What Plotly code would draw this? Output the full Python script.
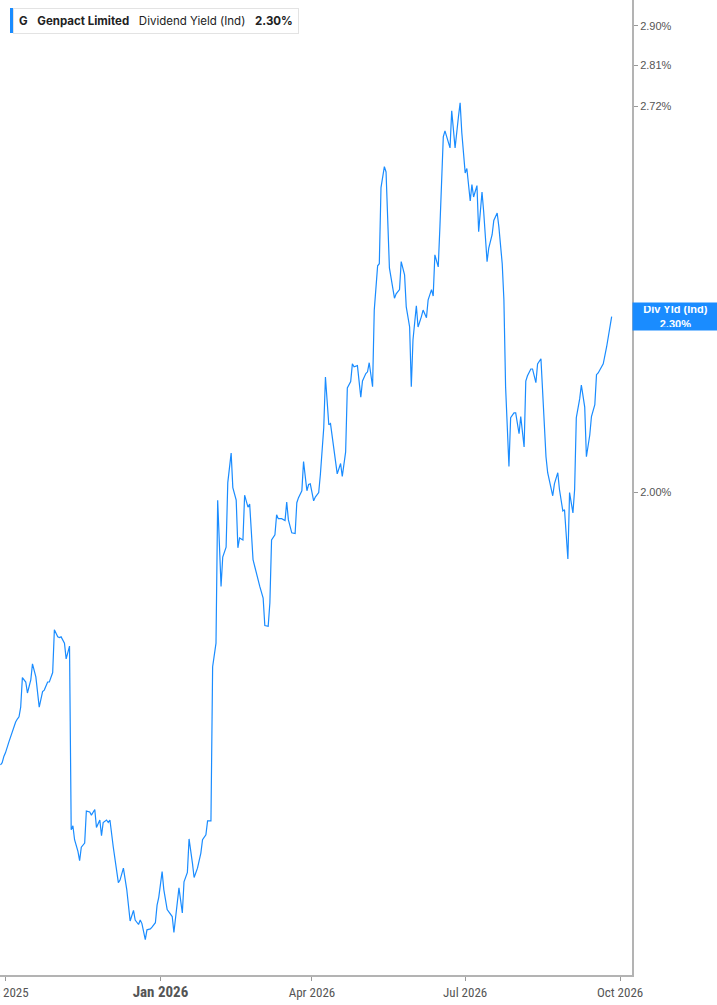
import plotly.graph_objects as go

# Genpact Limited - dividend yield (indicated), %
dates = [
    "2025-09-28", "2025-09-29", "2025-09-30", "2025-10-01", "2025-10-03", "2025-10-04", "2025-10-05",
    "2025-10-07", "2025-10-08", "2025-10-09", "2025-10-10", "2025-10-11", "2025-10-13", "2025-10-14",
    "2025-10-16", "2025-10-17", "2025-10-19", "2025-10-20", "2025-10-21", "2025-10-23", "2025-10-24",
    "2025-10-26", "2025-10-27", "2025-10-29", "2025-10-30", "2025-11-01", "2025-11-02", "2025-11-03",
    "2025-11-05", "2025-11-06", "2025-11-08", "2025-11-09", "2025-11-10", "2025-11-11", "2025-11-13",
    "2025-11-14", "2025-11-15", "2025-11-17", "2025-11-18", "2025-11-20", "2025-11-21", "2025-11-23",
    "2025-11-24", "2025-11-26", "2025-11-27", "2025-11-28", "2025-11-30", "2025-12-01", "2025-12-02",
    "2025-12-04", "2025-12-06", "2025-12-07", "2025-12-08", "2025-12-10", "2025-12-12", "2025-12-13",
    "2025-12-14", "2025-12-16", "2025-12-17", "2025-12-19", "2025-12-20", "2025-12-21", "2025-12-23",
    "2025-12-24", "2025-12-26", "2025-12-27", "2025-12-29", "2025-12-30", "2025-12-31", "2026-01-02",
    "2026-01-03", "2026-01-05", "2026-01-06", "2026-01-08", "2026-01-09", "2026-01-11", "2026-01-12",
    "2026-01-14", "2026-01-15", "2026-01-17", "2026-01-18", "2026-01-20", "2026-01-21", "2026-01-23",
    "2026-01-24", "2026-01-25", "2026-01-26", "2026-01-28", "2026-01-29", "2026-01-31", "2026-02-01",
    "2026-02-03", "2026-02-04", "2026-02-06", "2026-02-07", "2026-02-09", "2026-02-10", "2026-02-12",
    "2026-02-13", "2026-02-15", "2026-02-16", "2026-02-17", "2026-02-19", "2026-02-20", "2026-02-22",
    "2026-02-23", "2026-02-25", "2026-02-26", "2026-02-28", "2026-03-01", "2026-03-03", "2026-03-04",
    "2026-03-06", "2026-03-07", "2026-03-08", "2026-03-10", "2026-03-11", "2026-03-12", "2026-03-14",
    "2026-03-16", "2026-03-17", "2026-03-18", "2026-03-20", "2026-03-22", "2026-03-23", "2026-03-24",
    "2026-03-26", "2026-03-27", "2026-03-29", "2026-03-30", "2026-03-31", "2026-04-02", "2026-04-03",
    "2026-04-05", "2026-04-06", "2026-04-08", "2026-04-09", "2026-04-11", "2026-04-12", "2026-04-14",
    "2026-04-15", "2026-04-16", "2026-04-18", "2026-04-19", "2026-04-21", "2026-04-22", "2026-04-24",
    "2026-04-25", "2026-04-26", "2026-04-28", "2026-04-30", "2026-05-01", "2026-05-03", "2026-05-04",
    "2026-05-05", "2026-05-07", "2026-05-08", "2026-05-10", "2026-05-11", "2026-05-12", "2026-05-14",
    "2026-05-15", "2026-05-17", "2026-05-18", "2026-05-20", "2026-05-21", "2026-05-23", "2026-05-24",
    "2026-05-26", "2026-05-27", "2026-05-29", "2026-05-30", "2026-05-31", "2026-06-02", "2026-06-03",
    "2026-06-05", "2026-06-06", "2026-06-08", "2026-06-09", "2026-06-11", "2026-06-12", "2026-06-13",
    "2026-06-15", "2026-06-16", "2026-06-18", "2026-06-19", "2026-06-20", "2026-06-22", "2026-06-23",
    "2026-06-25", "2026-06-27", "2026-06-28", "2026-06-29", "2026-07-01", "2026-07-02", "2026-07-04",
    "2026-07-05", "2026-07-06", "2026-07-08", "2026-07-09", "2026-07-11", "2026-07-12", "2026-07-14",
    "2026-07-15", "2026-07-17", "2026-07-18", "2026-07-20", "2026-07-21", "2026-07-23", "2026-07-24",
    "2026-07-25", "2026-07-27", "2026-07-28", "2026-07-30", "2026-07-31", "2026-08-02", "2026-08-03",
    "2026-08-05", "2026-08-06", "2026-08-07", "2026-08-09", "2026-08-10", "2026-08-12", "2026-08-13",
    "2026-08-15", "2026-08-16", "2026-08-18", "2026-08-19", "2026-08-20", "2026-08-22", "2026-08-23",
    "2026-08-25", "2026-08-26", "2026-08-28", "2026-08-29", "2026-08-31", "2026-09-01", "2026-09-03",
    "2026-09-04", "2026-09-05", "2026-09-07", "2026-09-08", "2026-09-10", "2026-09-11", "2026-09-13",
    "2026-09-14", "2026-09-16", "2026-09-17", "2026-09-18", "2026-09-20", "2026-09-21", "2026-09-23",
    "2026-09-24", "2026-09-26",
]

div_yield = [
    1.609, 1.612, 1.620, 1.625, 1.639, 1.646, 1.651, 1.665, 1.669, 1.672,
    1.685, 1.725, 1.719, 1.704, 1.722, 1.744, 1.726, 1.708, 1.685, 1.706,
    1.708, 1.719, 1.719, 1.732, 1.792, 1.782, 1.781, 1.782, 1.773, 1.751,
    1.769, 1.528, 1.533, 1.516, 1.502, 1.491, 1.507, 1.512, 1.551, 1.550,
    1.546, 1.553, 1.531, 1.540, 1.521, 1.537, 1.540, 1.537, 1.540, 1.507,
    1.477, 1.465, 1.468, 1.482, 1.457, 1.434, 1.421, 1.433, 1.422, 1.417,
    1.422, 1.418, 1.400, 1.411, 1.412, 1.414, 1.419, 1.439, 1.448, 1.478,
    1.457, 1.434, 1.431, 1.426, 1.408, 1.442, 1.459, 1.430, 1.466, 1.477,
    1.517, 1.488, 1.471, 1.482, 1.491, 1.500, 1.516, 1.522, 1.539, 1.539,
    1.740, 1.773, 1.987, 1.855, 1.899, 1.914, 2.015, 2.063, 2.007, 1.987,
    1.913, 1.928, 1.925, 1.995, 1.976, 1.981, 1.895, 1.884, 1.862, 1.855,
    1.838, 1.798, 1.797, 1.831, 1.925, 1.933, 1.964, 1.958, 1.958, 1.955,
    1.984, 1.956, 1.936, 1.935, 1.983, 1.991, 2.002, 2.049, 2.002, 2.012,
    2.013, 1.986, 1.992, 1.999, 2.028, 2.105, 2.192, 2.110, 2.112, 2.066,
    2.044, 2.029, 2.046, 2.025, 2.065, 2.173, 2.184, 2.215, 2.210, 2.212,
    2.157, 2.185, 2.198, 2.201, 2.217, 2.175, 2.312, 2.395, 2.399, 2.549,
    2.592, 2.581, 2.391, 2.369, 2.334, 2.342, 2.350, 2.403, 2.378, 2.318,
    2.281, 2.175, 2.258, 2.320, 2.281, 2.300, 2.312, 2.298, 2.331, 2.350,
    2.338, 2.416, 2.393, 2.471, 2.654, 2.667, 2.654, 2.631, 2.710, 2.631,
    2.697, 2.727, 2.663, 2.579, 2.588, 2.522, 2.555, 2.530, 2.553, 2.461,
    2.540, 2.500, 2.403, 2.429, 2.455, 2.483, 2.498, 2.471, 2.399, 2.331,
    2.175, 2.041, 2.122, 2.130, 2.130, 2.095, 2.124, 2.073, 2.185, 2.194,
    2.206, 2.206, 2.182, 2.215, 2.224, 2.164, 2.057, 2.031, 2.020, 1.994,
    2.013, 2.031, 2.004, 1.970, 1.972, 1.896, 1.999, 1.967, 2.004, 2.122,
    2.154, 2.178, 2.140, 2.057, 2.093, 2.124, 2.144, 2.196, 2.199, 2.210,
    2.215, 2.245, 2.263, 2.300,
]

y_ticks = [2.00, 2.72, 2.81, 2.90]
y_tick_text = ["2.00%", "2.72%", "2.81%", "2.90%"]
x_ticks = ["2025-10-01", "2026-01-01", "2026-04-01", "2026-07-01", "2026-10-01"]
x_tick_text = ["Oct 2025", "<b><span style='font-size:15px'>Jan 2026</span></b>",
               "Apr 2026", "Jul 2026", "Oct 2026"]

last_val = div_yield[-1]
blue = "#1a8cff"

fig = go.Figure()
fig.add_trace(go.Scatter(
    x=dates, y=div_yield, mode="lines",
    line=dict(color=blue, width=1.2),
    hoverinfo="skip", showlegend=False,
))

fig.update_layout(
    width=717, height=1005,
    margin=dict(l=0, r=85, t=0, b=30),
    paper_bgcolor="white", plot_bgcolor="white",
    font=dict(family="Liberation Sans, Arial, sans-serif", color="#555"),
    xaxis=dict(
        type="date",
        range=["2025-09-27 17:00", "2026-10-08 02:00"],
        tickvals=x_ticks, ticktext=x_tick_text,
        ticklabeloverflow="allow", automargin=False,
        showgrid=False, zeroline=False,
        showline=True, linecolor="#b3b3b3", linewidth=2,
        ticks="outside", ticklen=4, tickcolor="#999",
        tickfont=dict(family="Liberation Sans Narrow, Roboto Condensed, Arial Narrow, sans-serif",
                      size=13, color="#555"),
    ),
    yaxis=dict(
        type="log", side="right",
        range=[0.13389, 0.47129],
        tickvals=y_ticks, ticktext=y_tick_text,
        automargin=False,
        showgrid=False, zeroline=False,
        showline=True, linecolor="#b3b3b3", linewidth=2,
        ticks="outside", ticklen=4, tickcolor="#999",
        tickfont=dict(family="Liberation Sans, Arial, sans-serif", size=11, color="#555"),
    ),
)

# legend-style header box (blue bar on its left edge, drawn as a shape)
fig.add_annotation(
    xref="paper", yref="paper", x=0, y=1, xanchor="left", yanchor="top",
    xshift=13, yshift=-8,
    text="<b>G</b>&nbsp;&nbsp;&nbsp;<b>Genpact Limited</b>&nbsp;&nbsp;&nbsp;Dividend Yield (Ind)"
         "&nbsp;&nbsp;&nbsp;<b>%.2f%%</b>" % last_val,
    showarrow=False, align="left",
    font=dict(family="Inter, Noto Sans, sans-serif", size=11.5, color="#222"),
    bgcolor="white", bordercolor="#e3e3e3", borderwidth=1, borderpad=5,
)
fig.add_shape(
    type="rect", xref="paper", yref="paper",
    xsizemode="pixel", ysizemode="pixel", xanchor=0, yanchor=1,
    x0=10, x1=13, y0=-8, y1=-33,
    fillcolor=blue, line=dict(width=0),
)

# last value tag on the right axis
fig.add_annotation(
    xref="paper", yref="y", x=1, y=0.36173, xanchor="left", yanchor="middle",
    text="<b>Div Yld (Ind)<br>%.2f%%</b>" % last_val,
    showarrow=False, align="center", width=79, height=21,
    font=dict(family="Liberation Sans, Arial, sans-serif", size=11, color="white"),
    bgcolor=blue, borderpad=3,
)

# page body has an 8px default margin; drop it so the figure sits at 0,0
fig.write_html("out.html", config={"displayModeBar": False},
               post_script="document.body.style.margin='0px';")
